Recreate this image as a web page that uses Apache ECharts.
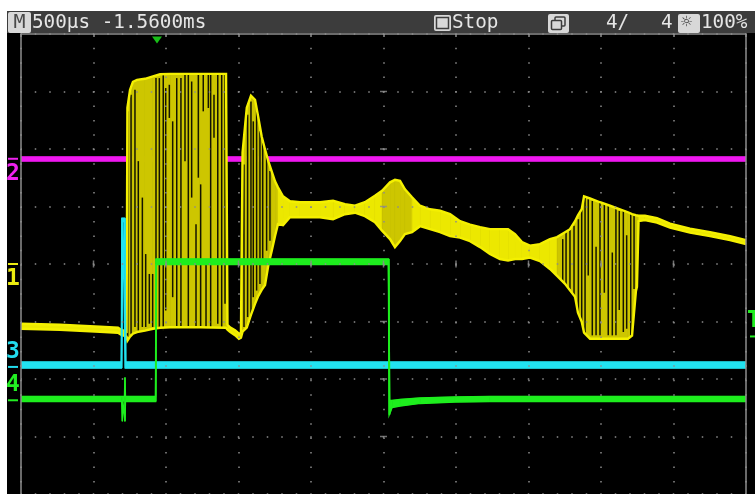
<!DOCTYPE html>
<html>
<head>
<meta charset="utf-8">
<title>Scope capture</title>
<script src="https://cdn.jsdelivr.net/npm/echarts@6/dist/echarts.min.js"></script>
<style>
  html, body { margin: 0; padding: 0; background: #ffffff; }
  #scope { width: 755px; height: 494px; }
</style>
</head>
<body>
<div id="scope"></div>
<script>
// Time base 500 µs/div, 10 divisions; time is counted in µs from the left edge.
// Vertical values are in screen divisions (8 divisions, centre = 0).
const timeStep = 500;
const levelStep = 1;
const majorTimes = [500, 1000, 1500, 2000, 2500, 3000, 3500, 4000, 4500];
const majorLevels = [-3, -2, -1, 1, 2, 3];

// CH1 (yellow): min/max envelope of the trace
const ch1Time = [0, 269, 545, 669, 690, 728, 734, 752, 772, 800, 855, 910, 959, 1028, 1234, 1414, 1424, 1441, 1476, 1503,
  1517, 1528, 1557, 1586, 1614, 1637, 1660, 1683, 1706, 1729, 1752, 1772, 1807, 1855, 1924, 2062, 2152, 2234, 2303, 2372,
  2441, 2490, 2545, 2579, 2614, 2648, 2697, 2752, 2821, 2890, 2959, 3028, 3097, 3166, 3234, 3303, 3359, 3407, 3455, 3510,
  3579, 3648, 3697, 3752, 3786, 3821, 3841, 3867, 3883, 3924, 3993, 4062, 4131, 4186, 4214, 4241, 4248, 4259, 4303, 4386,
  4476, 4614, 4752, 4890, 5000];
const ch1Max = [-1.039, -1.056, -1.091, -1.108, -1.143, -1.177, 2.719, 3.030, 3.169, 3.203, 3.221, 3.264, 3.299, 3.307, 3.307, 3.307, -1.056, -1.100, -1.152, -1.212,
  -1.195, 1.939, 2.719, 2.926, 2.857, 2.545, 2.216, 1.991, 1.784, 1.610, 1.437, 1.333, 1.177, 1.091, 1.074, 1.074, 1.100, 1.039, 1.013, 1.074,
  1.186, 1.273, 1.420, 1.463, 1.446, 1.299, 1.160, 1.013, 0.952, 0.926, 0.866, 0.745, 0.684, 0.641, 0.606, 0.606, 0.606, 0.519, 0.381, 0.320,
  0.346, 0.433, 0.468, 0.554, 0.606, 0.745, 0.848, 0.952, 1.177, 1.143, 1.074, 1.013, 0.952, 0.900, 0.866, 0.848, 0.831, 0.840, 0.840, 0.797,
  0.701, 0.615, 0.554, 0.485, 0.416];
const ch1Min = [-1.126, -1.143, -1.177, -1.195, -1.229, -1.264, -1.333, -1.264, -1.212, -1.186, -1.160, -1.126, -1.108, -1.100, -1.100, -1.108, -1.143, -1.177, -1.238, -1.299,
  -1.281, -1.177, -1.108, -0.883, -0.693, -0.554, -0.450, -0.364, -0.017, 0.225, 0.485, 0.693, 0.675, 0.814, 0.814, 0.814, 0.779, 0.866, 0.892, 0.831,
  0.727, 0.580, 0.433, 0.294, 0.398, 0.519, 0.554, 0.658, 0.606, 0.554, 0.485, 0.459, 0.398, 0.294, 0.173, 0.087, 0.061, 0.087, 0.087, 0.113,
  0.052, -0.087, -0.208, -0.346, -0.459, -0.571, -0.848, -1.004, -1.195, -1.299, -1.299, -1.299, -1.299, -1.299, -1.247, -0.468, -0.398, 0.745, 0.762, 0.719,
  0.632, 0.545, 0.485, 0.416, 0.346];

// CH1 dark gaps between the cycles inside the dense bursts
const ch1GapTime = [736, 759, 786, 809, 837, 860, 885, 908, 931, 954, 981, 998, 1023, 1046, 1074, 1103, 1131, 1154, 1177, 1207,
  1223, 1239, 1257, 1276, 1292, 1308, 1331, 1357, 1384, 1407, 1538, 1563, 1586, 1602, 1625, 1648, 1667, 1694, 1717, 3736,
  3759, 3786, 3814, 3844, 3867, 3890, 3912, 3940, 3966, 3993, 4023, 4050, 4078, 4103, 4126, 4154, 4177, 4205, 4228];
const ch1GapTop = [2.655, 2.944, 3.030, 1.789, 1.155, 0.173, -0.173, -0.173, 3.233, 3.233, 3.290, 3.060, 3.117, 2.481, 3.233, 3.233, 3.290, 3.290, 3.174, 0.693,
  3.290, 1.385, 3.290, 0.000, 3.290, 3.290, 2.944, 3.290, 3.290, 3.290, 1.732, 2.597, 2.828, 2.481, 2.771, 2.309, 2.136, 1.963, 1.616, 0.433,
  0.548, 0.606, 0.664, 0.779, 1.010, 1.155, 1.126, 1.097, 0.300, 1.068, 1.039, 1.010, 0.200, 0.952, 0.923, 0.923, 0.500, 0.866, 0.837];
const ch1GapBottom = [-1.269, -1.212, -1.096, -1.155, -1.096, -1.096, -1.039, -1.096, 0.000, -1.096, -1.155, -0.809, 2.540, -0.577, -1.096, -1.096, 1.789, -1.096, 1.155, -1.096,
  1.501, -1.096, 2.655, -1.096, 2.713, -1.096, 2.194, -1.039, -1.096, -0.693, -1.096, -0.923, -0.883, -0.577, -0.462, -0.346, 0.000, 0.231, 0.404, -0.318,
  -0.375, -0.433, -0.606, -0.895, -1.010, -1.241, -0.200, -1.241, -1.241, -1.241, -0.500, -1.241, -1.241, -1.241, -0.800, -1.183, -1.126, -1.241, -0.433];

// CH2 (magenta): flat trace
const ch2Time = [0, 5000];
const ch2Max = [1.861, 1.861];
const ch2Min = [1.792, 1.792];

// CH3 (cyan): flat trace with one short pulse
const ch3Time = [0, 692, 696, 703, 714, 719, 723, 5000];
const ch3Max = [-1.706, -1.706, 0.797, 0.797, 0.797, 0.797, -1.706, -1.706];
const ch3Min = [-1.810, -1.810, -1.810, 0.727, 0.727, -1.810, -1.810, -1.810];

// CH4 (green): gate pulse with a glitch before the rising edge
const ch4Time = [0, 695, 699, 702, 714, 717, 720, 928, 931, 934, 2534, 2539, 2543, 2559, 2614, 2752, 2993, 3234, 5000];
const ch4Max = [-2.303, -2.303, -2.303, -2.303, -2.303, -1.974, -2.303, -2.303, 0.087, 0.087, 0.087, 0.087, -2.372, -2.372, -2.355, -2.329, -2.312, -2.303, -2.303];
const ch4Min = [-2.390, -2.390, -2.736, -2.390, -2.390, -2.736, -2.390, -2.390, -2.390, -0.009, -0.009, -2.623, -2.623, -2.494, -2.468, -2.424, -2.399, -2.390, -2.390];

// Reference markers
const triggerTime = 938;
const triggerLevel = -1.26;
const groundLevels = [0.00, 1.83, -1.79, -2.37];   // CH1..CH4

const YELLOW = '#f4f000', OLIVE = '#cdc600', GAP = '#141400';
const MAGENTA = '#ef18ef', CYAN = '#22e2f0', GREEN = '#1eee1e';
const GRID_DOT = '#8c8c8c';
const FONT = 'DejaVu Sans Mono';

function segments(time, max, min) {
  const out = [];
  for (let i = 0; i < time.length - 1; i++) {
    out.push([time[i], max[i], min[i], time[i + 1], max[i + 1], min[i + 1]]);
  }
  return out;
}

// Filled band between the min and max envelope of a trace
function bandSeries(name, time, max, min, color, denseColor, z) {
  return {
    type: 'custom', name, z, silent: true, clip: true,
    encode: { x: [0, 3], y: [1, 2, 4, 5] },
    data: segments(time, max, min),
    renderItem(params, api) {
      const a = api.coord([api.value(0), api.value(1)]);
      const b = api.coord([api.value(3), api.value(4)]);
      const c = api.coord([api.value(3), api.value(5)]);
      const d = api.coord([api.value(0), api.value(2)]);
      const span = Math.max(d[1] - a[1], c[1] - b[1]);
      const fill = denseColor && span > 40 ? denseColor : color;
      return { type: 'polygon', shape: { points: [a, b, c, d] },
               style: { fill, stroke: fill, lineWidth: 0.6 } };
    }
  };
}

function edgeSeries(name, time, vals, color, width, z) {
  return {
    type: 'line', name, z, silent: true, symbol: 'none', clip: true,
    data: time.map((t, i) => [t, vals[i]]),
    lineStyle: { color, width, cap: 'butt', join: 'miter' }
  };
}

function gapSeries() {
  return {
    type: 'custom', name: 'CH1 gaps', z: 4, silent: true, clip: true,
    encode: { x: 0, y: [1, 2] },
    data: ch1GapTime.map((t, i) => [t, ch1GapTop[i], ch1GapBottom[i]]),
    renderItem(params, api) {
      const p = api.coord([api.value(0), api.value(1)]);
      const q = api.coord([api.value(0), api.value(2)]);
      return { type: 'line', shape: { x1: p[0], y1: p[1], x2: q[0], y2: q[1] },
               style: { stroke: GAP, lineWidth: 1.5 } };
    }
  };
}

const dotted = (gap) => ({ color: GRID_DOT, width: 1.5, type: [1.5, gap], dashOffset: 0.75 });

const chart = echarts.init(document.getElementById('scope'), null, { width: 755, height: 494 });

const option = {
  animation: false,
  backgroundColor: '#000000',
  grid: { left: 21, top: 34, width: 725, height: 462 },
  xAxis: [{
    type: 'value', min: 0, max: 5000, interval: timeStep, position: 'top', z: 20,
    axisLine: { show: true, onZero: false, lineStyle: { color: '#8e8e8e', width: 1.5 } },
    axisTick: { show: true, inside: true, length: 3, lineStyle: { color: '#8e8e8e', width: 1.5 } },
    axisLabel: { show: false },
    splitLine: { show: true, lineStyle: dotted(12.94) }
  }],
  yAxis: [{
    type: 'value', min: -4, max: 4, interval: levelStep, position: 'left', z: 20,
    axisLine: { show: true, onZero: false, lineStyle: { color: '#8e8e8e', width: 1.5 } },
    axisTick: { show: false }, axisLabel: { show: false },
    splitLine: { show: true, lineStyle: dotted(13) }
  }, {
    type: 'value', min: -4, max: 4, interval: levelStep, position: 'right', z: 20,
    axisLine: { show: true, onZero: false, lineStyle: { color: '#8e8e8e', width: 1.5 } },
    axisTick: { show: false }, axisLabel: { show: false }, splitLine: { show: false }
  }],
  series: [
    bandSeries('CH2', ch2Time, ch2Max, ch2Min, MAGENTA, null, 2),
    edgeSeries('CH2 max', ch2Time, ch2Max, MAGENTA, 1.5, 2),
    edgeSeries('CH2 min', ch2Time, ch2Min, MAGENTA, 1.5, 2),

    bandSeries('CH1', ch1Time, ch1Max, ch1Min, '#ecE800', OLIVE, 3),
    gapSeries(),
    edgeSeries('CH1 max', ch1Time, ch1Max, YELLOW, 2.4, 5),
    edgeSeries('CH1 min', ch1Time, ch1Min, YELLOW, 2.4, 5),

    bandSeries('CH3', ch3Time, ch3Max, ch3Min, CYAN, null, 6),
    edgeSeries('CH3 max', ch3Time, ch3Max, CYAN, 1.5, 6),
    edgeSeries('CH3 min', ch3Time, ch3Min, CYAN, 1.5, 6),

    bandSeries('CH4', ch4Time, ch4Max, ch4Min, GREEN, null, 7),
    edgeSeries('CH4 max', ch4Time, ch4Max, GREEN, 1.5, 7),
    edgeSeries('CH4 min', ch4Time, ch4Min, GREEN, 1.5, 7),

    // centre-axis division marks
    { type: 'scatter', z: 21, silent: true, symbol: 'rect', symbolSize: [1.5, 7],
      itemStyle: { color: GRID_DOT }, data: majorTimes.map(t => [t, 0]) },
    { type: 'scatter', z: 21, silent: true, symbol: 'rect', symbolSize: [7, 1.5],
      itemStyle: { color: GRID_DOT }, data: majorLevels.map(v => [2500, v]) },
    // trigger position
    { type: 'scatter', z: 22, silent: true, symbol: 'triangle', symbolRotate: 180,
      symbolSize: [10, 7], symbolOffset: [0, 6], clip: false,
      itemStyle: { color: GREEN }, data: [[triggerTime, 4]] }
  ]
};
chart.setOption(option);

// Status bar and channel markers
function label(text, x, y, color, size, opts) {
  return Object.assign({
    type: 'text', x, y, z: 100, scaleX: 0.965,
    style: { text, x: 0, y: 0, fill: color, font: size + 'px "' + FONT + '"',
             textAlign: 'left', align: 'left', textVerticalAlign: 'middle', verticalAlign: 'middle' }
  }, opts || {});
}

const barText = '#e6e6e6';
const iconFill = '#d8d8d8';
const dark = '#3c3c3c';
const graphics = [
  { type: 'rect', z: 90, shape: { x: 0, y: 0, width: 755, height: 11 }, style: { fill: '#ffffff' } },
  { type: 'rect', z: 90, shape: { x: 0, y: 0, width: 7, height: 494 }, style: { fill: '#ffffff' } },
  { type: 'rect', z: 90, shape: { x: 7, y: 11, width: 748, height: 22 }, style: { fill: dark } },
  { type: 'rect', z: 95, shape: { x: 8, y: 12, width: 23, height: 21, r: 2 }, style: { fill: iconFill } },
  label('M', 13.5, 23, '#4a4a4a', 20, { scaleX: 1 }),
  label('500µs -1.5600ms', 32, 23, barText, 20),
  { type: 'rect', z: 95, shape: { x: 434, y: 15, width: 17, height: 16, r: 2 }, style: { fill: iconFill } },
  { type: 'rect', z: 96, shape: { x: 436.5, y: 17.5, width: 12, height: 11 }, style: { fill: iconFill, stroke: dark, lineWidth: 1.5 } },
  label('Stop', 452, 23, barText, 20),
  { type: 'rect', z: 95, shape: { x: 548, y: 14, width: 21, height: 19, r: 2 }, style: { fill: iconFill } },
  { type: 'rect', z: 96, shape: { x: 555, y: 17, width: 10, height: 9, r: 1 }, style: { fill: iconFill, stroke: dark, lineWidth: 1.5 } },
  { type: 'rect', z: 97, shape: { x: 551.5, y: 20.5, width: 10, height: 9, r: 1 }, style: { fill: iconFill, stroke: dark, lineWidth: 1.5 } },
  label('4/', 606, 23, barText, 20),
  label('4', 661, 23, barText, 20),
  { type: 'rect', z: 95, shape: { x: 678, y: 14, width: 22, height: 19, r: 2 }, style: { fill: iconFill } },
  label('☼', 681, 23.5, dark, 19, { scaleX: 1 }),
  label('100%', 701, 23, barText, 20)
];

const chColors = ['#ecec10', '#ee22ee', '#22dcee', '#22ee22'];
const toY = v => chart.convertToPixel({ yAxisIndex: 0 }, v);
groundLevels.forEach((lvl, i) => {
  const y = toY(lvl);
  const below = i < 2;
  graphics.push({ type: 'rect', z: 100, shape: { x: 8, y: y - 1, width: 10, height: 2 }, style: { fill: chColors[i] } });
  graphics.push({
    type: 'text', z: 100, x: 13, y: below ? y + 15 : y - 15,
    style: { text: String(i + 1), x: 0, y: 0, fill: chColors[i], font: 'bold 23px "' + FONT + '"',
             textAlign: 'center', align: 'center', textVerticalAlign: 'middle', verticalAlign: 'middle' }
  });
});
const ty = toY(triggerLevel);
graphics.push({ type: 'rect', z: 100, shape: { x: 750, y: ty - 1, width: 6, height: 2 }, style: { fill: '#22ee22' } });
graphics.push({
  type: 'text', z: 100, x: 754, y: ty - 15,
  style: { text: 'T', x: 0, y: 0, fill: '#22ee22', font: 'bold 23px "' + FONT + '"',
           textAlign: 'center', align: 'center', textVerticalAlign: 'middle', verticalAlign: 'middle' }
});

chart.setOption({ graphic: { elements: graphics } });
</script>
</body>
</html>
